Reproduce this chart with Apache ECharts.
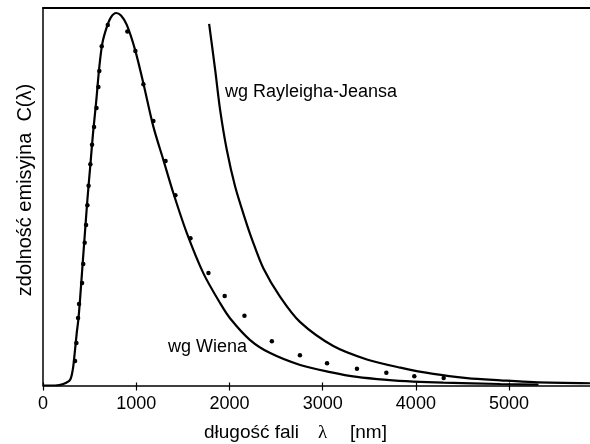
<!DOCTYPE html>
<html><head><meta charset="utf-8">
<script src="https://cdn.jsdelivr.net/npm/echarts@6/dist/echarts.min.js"></script>
<style>html,body{margin:0;padding:0;background:#fff}#c{width:590px;height:444px}</style>
</head><body><div id="c"></div>
<script>
// Tick labels on the wavelength axis (nm)
const xTickLabels = [0, 1000, 2000, 3000, 4000, 5000];

// Wien approximation curve (solid line): wavelength [nm] and relative emissivity
const wienLambda = [0,130,218,290,319,336,362,379,397,425,456,476,509,537,572,604,637,684,730,784,837,899,988,1077,1184,1292,1399,1543,1721,1900,2008,2222,2437,2759,3081,3368,3690,3973,4295,4907,5315];
const wienValue  = [0,0,0.4,1.5,4.2,7.7,14.1,17.6,23.0,32.6,43.1,49.8,59.5,67.8,76.6,85.5,91.9,96.2,98.9,100,99.3,96.8,90.1,81.1,69.5,60.5,51.6,40.9,30.1,22.1,18.0,12.2,8.7,5.5,3.6,2.3,1.5,1.05,0.75,0.4,0.25];

// Rayleigh-Jeans curve (solid line)
const rjLambda = [1782,1847,1900,1972,2061,2169,2241,2365,2544,2759,3114,3475,3833,4187,4549,4906,5261,5873];
const rjValue  = [97.1,84.7,74.0,63.2,53.4,44.6,39.3,31.4,23.8,17.0,10.6,7.0,4.8,3.1,2.0,1.4,0.9,0.6];

// Measured points (dots)
const dotLambda = [344,358,376,387,419,432,447,462,476,489,508,526,548,574,594,604,630,695,905,991,1077,1184,1315,1420,1582,1775,1949,2161,2455,2756,3047,3368,3683,3983,4298];
const dotValue  = [6.6,11.4,18.1,21.9,27.5,32.6,38.3,43.1,48.4,53.6,59.4,64.6,69.4,74.5,80.1,84.4,91.1,96.8,95.0,89.8,80.9,71.0,60.3,51.1,39.5,30.2,24.0,18.7,11.9,8.1,6.0,4.5,3.4,2.5,2.0];

const labels = { rj: 'wg Rayleigha-Jeansa', wien: 'wg Wiena' };
const xTitle = 'długość fali';
const yTitle = 'zdolność emisyjna  C(λ)';

const pair = (xs, ys) => xs.map((x, i) => [x, ys[i]]);
const FONT = "'Liberation Sans', Arial, sans-serif";

const chart = echarts.init(document.getElementById('c'), null, { renderer: 'canvas' });
const axisCommon = { type: 'value', min: 0, max: 5900, interval: 1000, splitLine: { show: false } };
chart.setOption({
  animation: false,
  backgroundColor: '#fff',
  grid: { left: 43, right: -3, top: 8, bottom: 58.5, show: false, containLabel: false, outerBoundsMode: 'none' },
  xAxis: [
    Object.assign({}, axisCommon, {
      position: 'bottom',
      axisLine: { show: true, lineStyle: { color: '#000', width: 1.5 } },
      axisTick: { show: true, length: 5, lineStyle: { color: '#000', width: 1.2 } },
      axisLabel: { color: '#000', fontSize: 18, fontFamily: FONT, margin: 10, showMaxLabel: false,
        formatter: v => (xTickLabels.indexOf(v) >= 0 ? String(v) : '') }
    }),
    Object.assign({}, axisCommon, {
      position: 'bottom',
      axisLine: { show: false },
      axisTick: { show: true, inside: true, length: 3, lineStyle: { color: '#000', width: 1.2 } },
      axisLabel: { show: false }
    }),
    Object.assign({}, axisCommon, {
      position: 'top',
      axisLine: { show: true, lineStyle: { color: '#000', width: 2 } },
      axisTick: { show: false },
      axisLabel: { show: false }
    })
  ],
  yAxis: {
    type: 'value', min: 0, max: 101.34,
    axisLine: { show: true, lineStyle: { color: '#000', width: 1.5 } },
    axisTick: { show: false }, axisLabel: { show: false }, splitLine: { show: false }
  },
  series: [
    { type: 'line', data: pair(wienLambda, wienValue), smooth: 0.3, showSymbol: false,
      lineStyle: { color: '#000', width: 2.2 }, silent: true },
    { type: 'line', data: pair(rjLambda, rjValue), smooth: 0.3, showSymbol: false,
      lineStyle: { color: '#000', width: 2.2 }, silent: true },
    { type: 'scatter', data: pair(dotLambda, dotValue), symbol: 'circle', symbolSize: 4.5,
      itemStyle: { color: '#000', opacity: 1 }, silent: true }
  ],
  graphic: [
    { type: 'text', x: 225, y: 92, style: { text: labels.rj, fill: '#000', font: '18px ' + FONT, textAlign: 'left', textVerticalAlign: 'middle' } },
    { type: 'text', x: 168, y: 347, style: { text: labels.wien, fill: '#000', font: '18px ' + FONT, textAlign: 'left', textVerticalAlign: 'middle' } },
    { type: 'text', x: 25, y: 190, rotation: Math.PI / 2, style: { text: yTitle, fill: '#000', font: '20px ' + FONT, textAlign: 'center', textVerticalAlign: 'middle' } },
    { type: 'text', x: 204, y: 433, style: {
        text: '{a|' + xTitle + '}{b|λ}{c|[nm]}',
        textAlign: 'left', textVerticalAlign: 'middle',
        rich: {
          a: { fontSize: 19, fontFamily: FONT, fill: '#000', color: '#000', width: 114 },
          b: { fontSize: 19, fontFamily: "'Liberation Serif', 'DejaVu Serif', serif", fill: '#000', color: '#000', width: 32 },
          c: { fontSize: 19, fontFamily: FONT, fill: '#000', color: '#000' }
        }
    } }
  ]
});
</script>
</body></html>
